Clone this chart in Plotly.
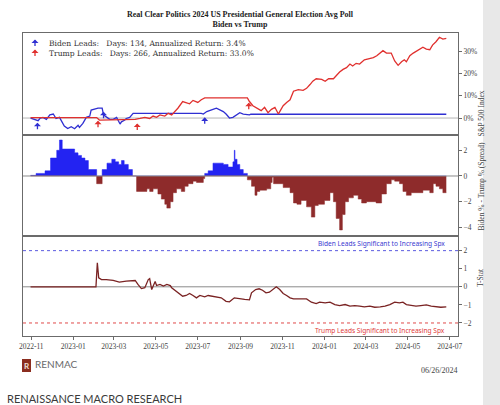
import plotly.graph_objects as go
from plotly.subplots import make_subplots

# ---------------- data ----------------
# Top panel: cumulative S&P 500 return (%) accrued on Biden-lead days / Trump-lead days
blue_dates = ["2022-10-31", "2022-11-06", "2022-11-11", "2022-11-14", "2022-11-18", "2022-11-23", "2022-11-28",
              "2022-12-03", "2022-12-07", "2022-12-12", "2022-12-15", "2022-12-19", "2022-12-24", "2022-12-29",
              "2023-01-03", "2023-01-08", "2023-01-10", "2023-01-15", "2023-01-20", "2023-01-25", "2023-01-27",
              "2023-02-01", "2023-02-06", "2023-02-12", "2023-02-14", "2023-02-19", "2023-02-23", "2023-02-28",
              "2023-03-05", "2023-03-10", "2023-03-12", "2023-03-17", "2023-03-19", "2023-03-24", "2023-03-29",
              "2023-07-06", "2023-07-09", "2023-07-14", "2023-07-19", "2023-07-23", "2023-07-28", "2023-08-02",
              "2023-08-07", "2023-08-11", "2023-08-16", "2023-08-21", "2023-08-26", "2023-08-31", "2023-09-05",
              "2023-09-10", "2023-09-14", "2023-09-16", "2024-06-26"]
blue_vals = [0.0, -0.5, -1.2, 0.0, 0.3, -0.6, 1.4,
             1.8, -0.2, 0.3, -1.7, -3.6, -4.7, -3.9,
             -4.8, -3.2, -4.2, -2.4, 0.3, 0.9, 3.6,
             3.9, 4.4, 4.4, 1.4, 0.3, -0.6, -0.6,
             0.3, -2.7, -1.7, -0.9, -0.2, 0.3, 2.1,
             2.1, 1.8, 2.9, 3.6, 3.9, 4.4, 3.6,
             2.9, 1.8, 0.0, 0.3, 1.4, 2.4, 1.8,
             1.4, 1.4, 1.7, 1.7]

red_dates = ["2022-10-31", "2023-02-04", "2023-02-08", "2023-03-31", "2023-04-01", "2023-04-08", "2023-04-15",
             "2023-04-22", "2023-04-27", "2023-05-02", "2023-05-07", "2023-05-14", "2023-05-19", "2023-05-24",
             "2023-05-29", "2023-06-02", "2023-06-09", "2023-06-15", "2023-06-19", "2023-06-24", "2023-07-01",
             "2023-07-06", "2023-07-11", "2023-09-11", "2023-09-14", "2023-09-19", "2023-09-26", "2023-10-01",
             "2023-10-06", "2023-10-11", "2023-10-16", "2023-10-21", "2023-10-23", "2023-10-26", "2023-10-28",
             "2023-11-02", "2023-11-07", "2023-11-12", "2023-11-17", "2023-11-24", "2023-12-01", "2023-12-06",
             "2023-12-11", "2023-12-15", "2023-12-20", "2023-12-28", "2024-01-02", "2024-01-07", "2024-01-14",
             "2024-01-19", "2024-01-23", "2024-01-28", "2024-02-02", "2024-02-07", "2024-02-11", "2024-02-16",
             "2024-02-21", "2024-02-28", "2024-03-07", "2024-03-12", "2024-03-17", "2024-03-22", "2024-03-26",
             "2024-03-31", "2024-04-07", "2024-04-12", "2024-04-17", "2024-04-22", "2024-04-26", "2024-04-29",
             "2024-05-04", "2024-05-09", "2024-05-16", "2024-05-23", "2024-05-28", "2024-06-02", "2024-06-06",
             "2024-06-11", "2024-06-16", "2024-06-21", "2024-06-26"]
red_vals = [0.2, 0.2, -0.9, -0.9, -0.6, -0.2, 0.3,
            -0.2, 0.9, 0.3, 1.4, 0.9, 2.1, 1.4,
            2.9, 4.4, 7.4, 7.0, 6.4, 7.9, 7.0,
            8.2, 9.0, 9.0, 7.4, 5.5, 4.4, 3.3,
            4.8, 2.4, 3.9, 4.8, 3.6, 1.8, 2.9,
            5.5, 7.0, 8.2, 12.0, 12.7, 12.4, 13.3,
            15.0, 16.5, 17.6, 17.3, 16.5, 17.6, 17.6,
            19.5, 20.6, 21.8, 22.6, 24.2, 23.3, 24.5,
            24.2, 26.1, 26.7, 27.1, 27.9, 29.4, 30.2,
            29.1, 29.1, 25.6, 23.6, 25.2, 26.1, 25.2,
            27.9, 29.1, 30.6, 31.7, 30.9, 30.6, 32.7,
            34.2, 36.2, 35.4, 35.7]

# lead-change arrows (tip position)
blue_arrow_dates = ["2022-11-10", "2023-02-14", "2023-07-11"]
blue_arrow_vals = [-2.1, 2.8, 0.3]
red_arrow_dates = ["2023-02-06", "2023-04-04", "2023-09-13"]
red_arrow_vals = [-1.2, -2.4, 6.9]

legend_labels = ["Biden Leads:\u00a0\u00a0 Days: 134, Annualized Return: 3.4%",
                 "Trump Leads:\u00a0\u00a0 Days: 266, Annualized Return: 33.0%"]

top_ticks = [0, 10, 20, 30]
top_ticktext = ["0%", "10%", "20%", "30%"]

# Middle panel: Biden % - Trump % spread
spread_dates = ["2022-10-31", "2022-11-08", "2022-11-21", "2022-11-29", "2022-12-08", "2022-12-12", "2022-12-16",
                "2023-01-03", "2023-01-08", "2023-01-13", "2023-01-18", "2023-01-23", "2023-02-04", "2023-02-12",
                "2023-02-19", "2023-02-26", "2023-03-03", "2023-03-08", "2023-03-12", "2023-03-16", "2023-03-22",
                "2023-03-28", "2023-04-03", "2023-04-18", "2023-04-22", "2023-04-27", "2023-05-04", "2023-05-09",
                "2023-05-14", "2023-05-17", "2023-05-22", "2023-05-26", "2023-05-31", "2023-06-07", "2023-06-12",
                "2023-06-17", "2023-06-24", "2023-06-29", "2023-07-09", "2023-07-11", "2023-07-16", "2023-07-23",
                "2023-08-07", "2023-08-14", "2023-08-21", "2023-08-23", "2023-08-24", "2023-08-27", "2023-08-31",
                "2023-09-05", "2023-09-11", "2023-09-17", "2023-09-22", "2023-09-25", "2023-09-29", "2023-10-09",
                "2023-10-15", "2023-10-17", "2023-10-19", "2023-11-02", "2023-11-12", "2023-11-17", "2023-11-22",
                "2023-11-28", "2023-12-06", "2023-12-13", "2023-12-18", "2023-12-23", "2024-01-01", "2024-01-09",
                "2024-01-14", "2024-01-18", "2024-01-23", "2024-01-27", "2024-01-31", "2024-02-05", "2024-02-12",
                "2024-02-19", "2024-02-24", "2024-03-02", "2024-03-16", "2024-03-24", "2024-03-31", "2024-04-07",
                "2024-04-12", "2024-04-19", "2024-04-24", "2024-04-29", "2024-05-06", "2024-05-23", "2024-06-02",
                "2024-06-07", "2024-06-11", "2024-06-16", "2024-06-21", "2024-06-26"]
spread_vals = [0.05, 0.2, 0.4, 1.4, 2.0, 2.8, 2.1,
               1.8, 1.6, 1.4, 1.2, 0.5, -0.6, 0.5,
               1.0, 1.3, 1.1, 0.9, 1.2, 0.9, 0.5,
               0.0, -1.2, -1.0, -1.2, -1.0, -1.4, -1.8,
               -2.2, -2.5, -2.0, -1.3, -1.0, -1.2, -0.8,
               -0.6, -0.4, -0.5, -0.2, 0.2, 0.4, 1.0,
               0.9, 0.7, 1.1, 2.0, 1.3, 0.9, 0.5,
               0.2, -0.3, -0.8, -1.5, -1.2, -1.1, -1.0,
               -0.5, -0.1, -0.6, -0.9, -1.3, -2.1, -2.2,
               -1.9, -2.4, -3.2, -2.3, -2.2, -1.9, -1.3,
               -2.0, -3.3, -4.2, -3.0, -2.0, -1.7, -1.5,
               -1.8, -2.1, -2.0, -2.1, -1.4, -0.6, -0.3,
               -0.4, -0.6, -1.2, -1.5, -1.3, -1.1, -1.3,
               -0.6, -0.8, -1.0, -1.3, -1.3]

# Bottom panel: T-stat
tstat_dates = ["2022-10-31", "2023-02-03", "2023-02-05", "2023-02-07", "2023-02-11", "2023-02-18", "2023-02-28",
               "2023-03-09", "2023-03-19", "2023-04-01", "2023-04-05", "2023-04-10", "2023-04-15", "2023-04-20",
               "2023-04-22", "2023-04-25", "2023-04-30", "2023-05-02", "2023-05-07", "2023-05-12", "2023-05-17",
               "2023-05-22", "2023-05-24", "2023-05-29", "2023-06-02", "2023-06-09", "2023-06-14", "2023-06-19",
               "2023-06-24", "2023-06-29", "2023-07-04", "2023-07-11", "2023-07-16", "2023-07-23", "2023-07-31",
               "2023-08-04", "2023-08-11", "2023-08-16", "2023-08-23", "2023-08-31", "2023-09-07", "2023-09-14",
               "2023-09-17", "2023-09-23", "2023-09-28", "2023-10-03", "2023-10-08", "2023-10-13", "2023-10-18",
               "2023-10-23", "2023-10-28", "2023-11-02", "2023-11-07", "2023-11-12", "2023-11-17", "2023-11-24",
               "2023-12-01", "2023-12-06", "2023-12-13", "2023-12-20", "2023-12-25", "2024-01-02", "2024-01-09",
               "2024-01-16", "2024-01-23", "2024-01-31", "2024-02-07", "2024-02-14", "2024-02-21", "2024-02-28",
               "2024-03-07", "2024-03-14", "2024-03-22", "2024-03-29", "2024-04-05", "2024-04-12", "2024-04-19",
               "2024-04-24", "2024-04-29", "2024-05-06", "2024-05-13", "2024-05-20", "2024-05-28", "2024-06-04",
               "2024-06-11", "2024-06-18", "2024-06-26"]
tstat_vals = [0.0, 0.0, 1.33, 0.5, 0.4, 0.4, 0.35,
              0.26, 0.31, 0.35, 0.13, -0.1, -0.05, 0.4,
              0.45, -0.15, 0.3, 0.07, 0.13, 0.04, 0.13,
              0.07, -0.05, -0.2, -0.3, -0.52, -0.48, -0.37,
              -0.48, -0.61, -0.48, -0.55, -0.48, -0.52, -0.55,
              -0.61, -0.8, -0.83, -0.61, -0.67, -0.7, -0.72,
              -0.33, -0.15, -0.11, -0.19, -0.33, -0.3, -0.15,
              0.0, -0.15, -0.37, -0.48, -0.61, -0.67, -0.67,
              -0.7, -0.67, -0.85, -0.93, -0.85, -0.89, -0.85,
              -0.98, -1.04, -0.98, -1.07, -1.04, -1.07, -1.11,
              -1.07, -1.13, -1.11, -1.07, -0.98, -0.85, -0.89,
              -0.85, -0.98, -1.04, -1.07, -1.04, -1.0, -1.07,
              -1.11, -1.13, -1.11]

sig_labels = ["Biden Leads Significant to Increasing Spx", "Trump Leads Significant to Increasing Spx"]
sig_levels = [2, -2]

# ---------------- figure ----------------
BLUE_LINE = "#2f2fd2"
RED_LINE = "#e0302e"
BLUE_FILL = "#2323f2"
RED_FILL = "#8e2b2b"
TSTAT = "#7a2323"
AXC = "#6b6b6b"
SERIF = "Liberation Serif"

fig = make_subplots(rows=3, cols=1, shared_xaxes=True, vertical_spacing=0)

fig.add_trace(go.Scatter(x=blue_dates, y=blue_vals, mode="lines",
                         line=dict(color=BLUE_LINE, width=1.3)), row=1, col=1)
fig.add_trace(go.Scatter(x=red_dates, y=red_vals, mode="lines",
                         line=dict(color=RED_LINE, width=1.3)), row=1, col=1)

pos = [max(v, 0) for v in spread_vals]
neg = [min(v, 0) for v in spread_vals]
fig.add_trace(go.Scatter(x=spread_dates, y=pos, mode="lines", line_shape="hv",
                         line=dict(color=BLUE_FILL, width=0.5), fill="tozeroy",
                         fillcolor=BLUE_FILL), row=2, col=1)
fig.add_trace(go.Scatter(x=spread_dates, y=neg, mode="lines", line_shape="hv",
                         line=dict(color=RED_FILL, width=0.5), fill="tozeroy",
                         fillcolor=RED_FILL), row=2, col=1)

fig.add_trace(go.Scatter(x=tstat_dates, y=tstat_vals, mode="lines",
                         line=dict(color=TSTAT, width=1.3)), row=3, col=1)

# geometry: plot area px 23..458 horizontally, 33..336 vertically
ph = 303.0
def py(page_y):
    return (336 - page_y) / ph
def px(page_x):
    return (page_x - 23) / 435.0

xr = ["2022-10-20", "2024-07-13"]
tickfont = dict(family=SERIF, size=7.5, color="#444")
common = dict(showline=True, linecolor=AXC, linewidth=1.2, mirror=True,
              showgrid=False, zeroline=False)

fig.update_layout(
    width=500, height=405,
    margin=dict(l=23, r=42, t=33, b=69),
    paper_bgcolor="white", plot_bgcolor="white",
    showlegend=False,
    xaxis=dict(range=xr, showticklabels=False, ticks="", **common),
    xaxis2=dict(range=xr, showticklabels=False, ticks="", **common),
    xaxis3=dict(range=xr, ticks="outside", ticklen=3, tickcolor=AXC,
                tickformat="%Y-%m", dtick="M2", tick0="2022-11-01",
                tickfont=tickfont, **common),
    yaxis=dict(domain=[py(135), 1], range=[-7.6, 38.1], side="right",
               tickmode="array", tickvals=top_ticks, ticktext=top_ticktext, ticks="outside",
               ticklen=3, tickcolor=AXC, tickfont=tickfont, **common),
    yaxis2=dict(domain=[py(236), py(135)], range=[-4.67, 3.19], side="right",
                tickvals=[-4, -2, 0, 2], ticks="outside", ticklen=3,
                tickcolor=AXC, tickfont=tickfont, **common),
    yaxis3=dict(domain=[0, py(236)], range=[-2.72, 2.81], side="right",
                tickvals=[-2, -1, 0, 1, 2], ticks="outside", ticklen=3,
                tickcolor=AXC, tickfont=tickfont, **common),
)

shapes = [
    # light gray strip at right edge of page
    dict(type="rect", xref="paper", yref="paper", x0=px(483), x1=px(500),
         y0=py(405), y1=py(0), fillcolor="#e8e8e8", line=dict(width=0), layer="below"),
    dict(type="line", xref="x domain", yref="y", x0=0, x1=1, y0=0, y1=0,
         line=dict(color="#b5b5b5", width=1), layer="below"),
    dict(type="line", xref="x2 domain", yref="y2", x0=0, x1=1, y0=0, y1=0,
         line=dict(color="#8a8a8a", width=1), layer="above"),
    dict(type="line", xref="x3 domain", yref="y3", x0=0, x1=1, y0=0, y1=0,
         line=dict(color="#8a8a8a", width=1), layer="below"),
    dict(type="line", xref="x3 domain", yref="y3", x0=0, x1=1, y0=sig_levels[0], y1=sig_levels[0],
         line=dict(color="#5a5ae0", width=1, dash="dot")),
    dict(type="line", xref="x3 domain", yref="y3", x0=0, x1=1, y0=sig_levels[1], y1=sig_levels[1],
         line=dict(color="#e04a4a", width=1, dash="dot")),
    # RENMAC logo square
    dict(type="rect", xref="paper", yref="paper", x0=px(22), x1=px(31),
         y0=py(372), y1=py(359), fillcolor="#8b2d1f", line=dict(width=0)),
]

ARROW = dict(text="", showarrow=True, arrowhead=1, arrowsize=0.9, arrowwidth=1.3, ax=0, ay=8)

annotations = [
    dict(xref="paper", yref="paper", x=0.5, y=py(31), xanchor="center", yanchor="bottom",
         showarrow=False, align="center",
         text="<b>Real Clear Politics 2024 US Presidential General Election Avg Poll<br>Biden vs Trump</b>",
         font=dict(family=SERIF, size=8, color="#222")),
    # legend
    dict(xref="paper", yref="paper", x=px(47), y=py(43.5), xanchor="left", yanchor="middle",
         showarrow=False, text=legend_labels[0], font=dict(family="DejaVu Serif", size=7.6, color="#333")),
    dict(xref="paper", yref="paper", x=px(47), y=py(53.5), xanchor="left", yanchor="middle",
         showarrow=False, text=legend_labels[1], font=dict(family="DejaVu Serif", size=7.6, color="#333")),
    dict(xref="paper", yref="paper", x=px(35), y=py(39.5), arrowcolor=BLUE_LINE, **ARROW),
    dict(xref="paper", yref="paper", x=px(35), y=py(49.5), arrowcolor=RED_LINE, **ARROW),
    # axis titles
    dict(xref="paper", yref="paper", x=px(487), y=py(89), textangle=-90, showarrow=False,
         text="S&P 500 Index", font=dict(family=SERIF, size=7.5, color="#444")),
    dict(xref="paper", yref="paper", x=px(487), y=py(186), textangle=-90, showarrow=False,
         text="Biden % - Trump % (Spread)", font=dict(family=SERIF, size=7.5, color="#444")),
    dict(xref="paper", yref="paper", x=px(487), y=py(289), textangle=-90, showarrow=False,
         text="T-Stat", font=dict(family=SERIF, size=7.5, color="#444")),
    # significance labels
    dict(xref="paper", yref="y3", x=px(447), y=sig_levels[0], xanchor="right", yanchor="bottom",
         yshift=1, showarrow=False, text=sig_labels[0],
         font=dict(family="Noto Sans", size=6.6, color="#3a3ad0")),
    dict(xref="paper", yref="y3", x=px(447), y=sig_levels[1], xanchor="right", yanchor="top",
         yshift=-1, showarrow=False, text=sig_labels[1],
         font=dict(family="Noto Sans", size=6.6, color="#e03a3a")),
    # footer
    dict(xref="paper", yref="paper", x=px(459), y=py(370), xanchor="right", yanchor="middle",
         showarrow=False, text="06/26/2024", font=dict(family=SERIF, size=8, color="#444")),
    dict(xref="paper", yref="paper", x=px(33), y=py(364), xanchor="left", yanchor="middle",
         showarrow=False, text="RENMAC", font=dict(family="Lato", size=10, color="#6a6a6a")),
    dict(xref="paper", yref="paper", x=px(26.5), y=py(365.5), xanchor="center", yanchor="middle",
         showarrow=False, text="<b>R</b>", font=dict(family="Lato", size=8, color="#f0e0d8")),
    dict(xref="paper", yref="paper", x=px(5), y=py(398.5), xanchor="left", yanchor="middle",
         showarrow=False, text="RENAISSANCE MACRO RESEARCH", font=dict(family="Lato", size=11, color="#3a3a3a")),
]

for d, v in zip(blue_arrow_dates, blue_arrow_vals):
    annotations.append(dict(xref="x", yref="y", x=d, y=v, arrowcolor=BLUE_LINE, **ARROW))
for d, v in zip(red_arrow_dates, red_arrow_vals):
    annotations.append(dict(xref="x", yref="y", x=d, y=v, arrowcolor=RED_LINE, **ARROW))

fig.update_layout(shapes=shapes, annotations=annotations)

fig.write_html("out.html")
